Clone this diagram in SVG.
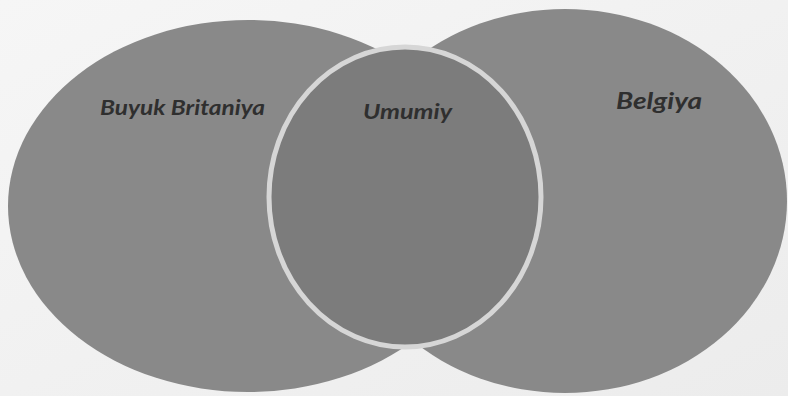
<svg xmlns="http://www.w3.org/2000/svg" width="788" height="396" viewBox="0 0 788 396">
  <defs>
    <linearGradient id="bg" x1="0" y1="0" x2="1" y2="1">
      <stop offset="0" stop-color="#f6f6f6"/>
      <stop offset="1" stop-color="#ececec"/>
    </linearGradient>
  </defs>
  <style>
    .outer { fill: #898989; }
    .inner { fill: #7c7c7c; stroke: #d6d6d6; stroke-width: 5; }
    .lbl { font-family: Lato, "Open Sans", "Liberation Sans", sans-serif; font-weight: bold; font-style: italic; fill: #2f2f2f; }
  </style>
  <rect x="0" y="0" width="788" height="396" fill="url(#bg)"/>
  <g id="britain">
    <ellipse class="outer" cx="248" cy="206" rx="240" ry="186"/>
  </g>
  <g id="belgium">
    <ellipse class="outer" cx="565" cy="201" rx="222" ry="192"/>
  </g>
  <g id="common">
    <ellipse class="inner" cx="405" cy="197" rx="136" ry="150"/>
  </g>
  <g id="labels">
    <text class="lbl" x="100" y="115" font-size="21" textLength="165" lengthAdjust="spacingAndGlyphs">Buyuk Britaniya</text>
    <text class="lbl" x="363" y="119" font-size="20" textLength="89" lengthAdjust="spacingAndGlyphs">Umumiy</text>
    <text class="lbl" x="616" y="109" font-size="22" textLength="86" lengthAdjust="spacingAndGlyphs">Belgiya</text>
  </g>
  <g id="connectors"/>
</svg>
